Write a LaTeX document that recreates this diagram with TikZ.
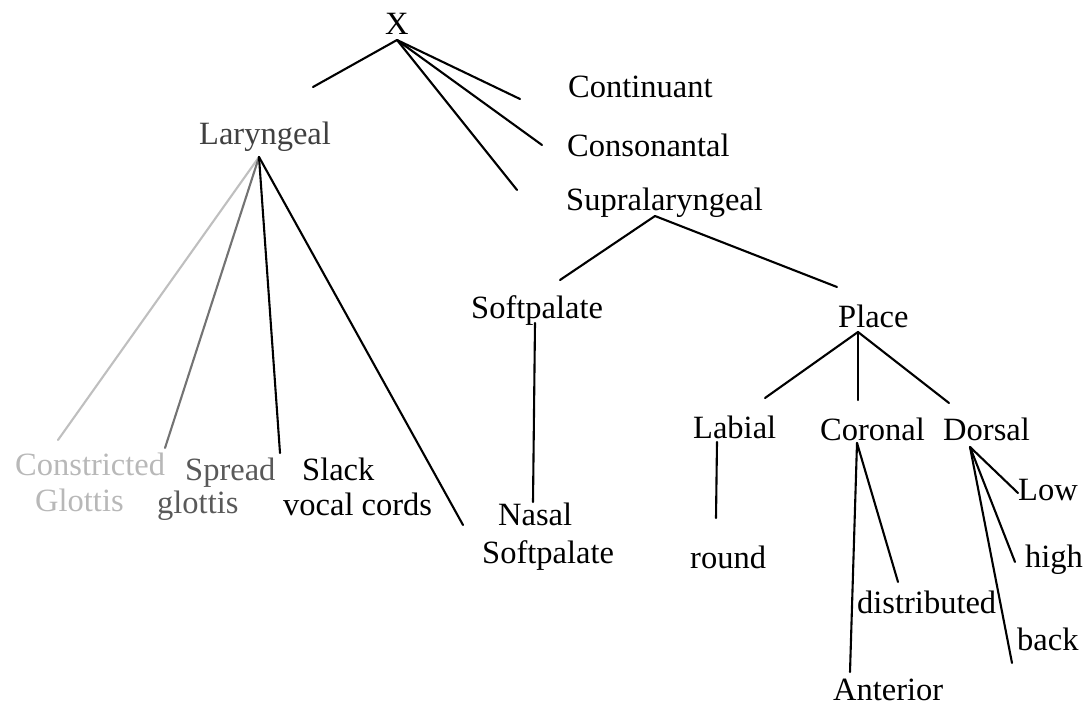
\documentclass[tikz,border=0pt]{standalone}
\usepackage{fontspec}
\setmainfont{Liberation Serif}
\begin{document}
\begin{tikzpicture}[x=1pt,y=-1pt,
  lbl/.style={anchor=base west, inner sep=0pt, font=\fontsize{32.5}{39}\selectfont},
  edge/.style={line width=2.1pt, line cap=round},
  faint/.style={lbl, text=black!28}]
\useasboundingbox (0,0) rectangle (1089,706);

% ---- labels ----
\node[lbl] (X) at (385,35) {X};
\node[lbl] (cont) at (568,98) {Continuant};
\node[lbl] (cons) at (567,157) {Consonantal};
\node[lbl] (supra) at (566,210) {Supralaryngeal};
\node[lbl, text=black!75] (lar) at (199,145) {Laryngeal};

\node[faint] (constr) at (15,475) {Constricted};
\node[faint] (glot) at (35,511) {Glottis};

\node[lbl, text=black!65] (spread) at (185,480) {Spread};
\node[lbl, text=black!65] (glottis) at (157,513) {glottis};
\node[lbl] (slack) at (302,480) {Slack};
\node[lbl] (vocal) at (283,515) {vocal cords};

\node[lbl] (soft) at (471,318) {Softpalate};
\node[lbl] (place) at (838,327) {Place};
\node[lbl] (nasal) at (498,525) {Nasal};
\node[lbl] (nsoft) at (482,563) {Softpalate};

\node[lbl] (lab) at (693,438) {Labial};
\node[lbl] (cor) at (820,440) {Coronal};
\node[lbl] (dor) at (943,440) {Dorsal};
\node[lbl] (round) at (690,568) {round};
\node[lbl] (distr) at (857,613) {distributed};
\node[lbl] (ant) at (833,700) {Anterior};
\node[lbl] (low) at (1018,500) {Low};
\node[lbl] (high) at (1025,567) {high};
\node[lbl] (back) at (1017,650) {back};

% ---- branch points and line ends ----
\coordinate (xo) at (397,40);
\coordinate (xL) at (313,87);
\coordinate (xC) at (520,99);
\coordinate (xK) at (542,145);
\coordinate (xS) at (517,190);

\coordinate (lo) at (259,157);
\coordinate (lC) at (58,440);
\coordinate (lSp) at (165,448);
\coordinate (lSl) at (280,453);
\coordinate (lN) at (463,525);

\coordinate (so) at (655,216);
\coordinate (sS) at (560,280);
\coordinate (sP) at (837,287);

\coordinate (spo) at (535,323);
\coordinate (spN) at (533,502);

\coordinate (po) at (858,332);
\coordinate (pL) at (765,398);
\coordinate (pC) at (858,400);
\coordinate (pD) at (949,403);

\coordinate (lbo) at (717,442);
\coordinate (lbR) at (716,518);

\coordinate (co) at (857,443);
\coordinate (cA) at (850,672);
\coordinate (cD) at (898,582);

\coordinate (do) at (970,447);
\coordinate (dL) at (1018,493);
\coordinate (dH) at (1015,562);
\coordinate (dB) at (1012,663);

% ---- connectors ----
\draw[edge] (xo) -- (xL);
\draw[edge] (xo) -- (xC);
\draw[edge] (xo) -- (xK);
\draw[edge] (xo) -- (xS);

\draw[edge, black!25] (lo) -- (lC);
\draw[edge, black!55] (lo) -- (lSp);
\draw[edge] (lo) -- (lSl);
\draw[edge] (lo) -- (lN);

\draw[edge] (so) -- (sS);
\draw[edge] (so) -- (sP);
\draw[edge] (spo) -- (spN);

\draw[edge] (po) -- (pL);
\draw[edge] (po) -- (pC);
\draw[edge] (po) -- (pD);
\draw[edge] (lbo) -- (lbR);

\draw[edge] (co) -- (cA);
\draw[edge] (co) -- (cD);

\draw[edge] (do) -- (dL);
\draw[edge] (do) -- (dH);
\draw[edge] (do) -- (dB);
\end{tikzpicture}
\end{document}
